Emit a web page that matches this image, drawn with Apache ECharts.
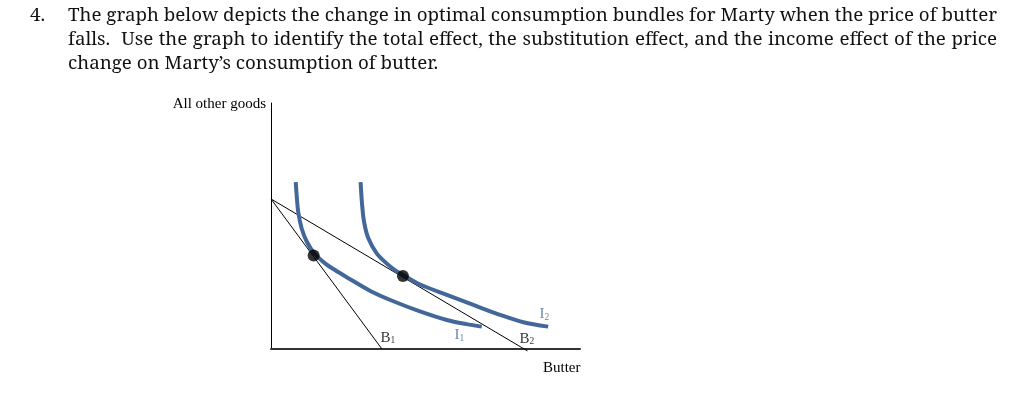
<!DOCTYPE html>
<html><head><meta charset="utf-8">
<script src="https://cdn.jsdelivr.net/npm/echarts@6/dist/echarts.min.js"></script>
<style>html,body{margin:0;padding:0;background:#fff}#c{width:1024px;height:393px}</style>
</head><body><div id="c"></div>
<script>
// Question text lines
const questionNumber = "4.";
const questionLines = [
  "The graph below depicts the change in optimal consumption bundles for Marty when the price of butter",
  "falls.  Use the graph to identify the total effect, the substitution effect, and the income effect of the price",
  "change on Marty\u2019s consumption of butter."
];
const justifiedLines = [true, true, false];
// Axis titles
const yAxisTitle = "All other goods";
const xAxisTitle = "Butter";
// Budget lines [butter, other goods]
const budget1 = [[0, 6.10], [3.59, 0]];
const budget2 = [[0, 6.10], [8.30, -0.08]];
// Indifference curves
const indiff1 = [[0.80,6.78],[0.83,6.26],[0.88,5.58],[0.99,4.91],[1.16,4.36],[1.40,3.89],[1.75,3.48],[2.07,3.21],[2.45,2.92],[3.20,2.37],[3.96,1.94],[4.82,1.53],[5.69,1.18],[6.33,1.01],[6.82,0.91]];
const indiff2 = [[2.90,6.78],[2.94,5.99],[3.01,5.18],[3.15,4.50],[3.42,3.89],[3.74,3.48],[4.01,3.21],[4.28,3.01],[4.82,2.62],[5.69,2.20],[6.55,1.79],[7.41,1.39],[8.17,1.09],[8.97,0.91]];
// Optimal bundles
const bundles = [[1.38, 3.80], [4.27, 2.97]];
// Curve labels: [base, subscript, butter, other goods]
const curveLabels = [["B","1",3.78,0.45],["I","1",6.10,0.55],["B","2",8.28,0.42],["I","2",8.85,1.40]];

const chart = echarts.init(document.getElementById('c'), null, {renderer:'canvas'});
const blue = '#44679a';
const serifQ = "'Noto Serif','DejaVu Serif Condensed',serif";
const times = "'Liberation Serif','Times New Roman',serif";
const qFont = "18.75px " + serifQ;

const ctx = document.createElement('canvas').getContext('2d');
ctx.font = qFont;
const textLeft = 68, textRight = 997;

const graphics = [];
graphics.push({type:'text', left:30, top:6, style:{text:questionNumber, font:qFont, fill:'#111'}});
questionLines.forEach((t,i)=>{
  const top = 6 + i*24;
  if (!justifiedLines[i]) {
    graphics.push({type:'text', left:textLeft, top:top, style:{text:t, font:qFont, fill:'#111'}});
    return;
  }
  const parts = t.split(' ');
  const words = []; const gapsWeight = [];
  parts.forEach(p=>{ if (p==='') { if (gapsWeight.length) gapsWeight[gapsWeight.length-1]+=1; } else { words.push(p); gapsWeight.push(1); } });
  gapsWeight.pop();
  const wordsW = words.reduce((a,w)=>a+ctx.measureText(w).width,0);
  const totalGapW = gapsWeight.reduce((a,b)=>a+b,0);
  const unit = (textRight - textLeft - wordsW) / totalGapW;
  let x = textLeft;
  words.forEach((w,k)=>{
    graphics.push({type:'text', left:x, top:top, style:{text:w, font:qFont, fill:'#111'}});
    x += ctx.measureText(w).width + (k<gapsWeight.length ? gapsWeight[k]*unit : 0);
  });
});
graphics.push({type:'text', right:1024-266, top:97, style:{text:yAxisTitle, font:"15px "+times, fill:'#000'}});
graphics.push({type:'text', left:543, top:361, style:{text:xAxisTitle, font:"15px "+times, fill:'#000'}});

const labelSeries = {
  type:'scatter', symbolSize:0, silent:true,
  data: curveLabels.map(l=>({value:[l[2],l[3]], name:l[0]+'|'+l[1]})),
  label:{show:true, position:'inside', fontFamily:times,
    formatter:p=>{const [b,s]=p.name.split('|'); const k=b==='I'?'i':'b'; return '{'+k+'|'+b+'}{'+k+'s|'+s+'}';},
    rich:{
      b:{fontSize:15, color:'#000', fontFamily:times},
      bs:{fontSize:9.5, color:'#000', fontFamily:times, verticalAlign:'bottom', padding:[6,0,0,0]},
      i:{fontSize:15, color:blue, fontFamily:times},
      is:{fontSize:9.5, color:blue, fontFamily:times, verticalAlign:'bottom', padding:[6,0,0,0]}
    }
  }
};

chart.setOption({
  animation:false,
  grid:{left:271, top:103, width:309, height:246, containLabel:false},
  xAxis:{type:'value', min:0, max:10, axisLine:{show:true, lineStyle:{color:'#333', width:2}}, axisTick:{show:false}, axisLabel:{show:false}, splitLine:{show:false}},
  yAxis:{type:'value', min:0, max:10, axisLine:{show:true, onZero:false, lineStyle:{color:'#000', width:1}}, axisTick:{show:false}, axisLabel:{show:false}, splitLine:{show:false}},
  graphic: graphics,
  series:[
    {type:'line', data:budget1, symbol:'none', clip:false, lineStyle:{color:'#000', width:1}, silent:true},
    {type:'line', data:budget2, symbol:'none', clip:false, lineStyle:{color:'#000', width:1}, silent:true},
    {type:'line', data:indiff1, symbol:'none', smooth:0.3, lineStyle:{color:blue, width:4, cap:'butt'}, silent:true},
    {type:'line', data:indiff2, symbol:'none', smooth:0.3, lineStyle:{color:blue, width:4, cap:'butt'}, silent:true},
    {type:'scatter', data:bundles, symbol:'circle', symbolSize:12, itemStyle:{color:'#000'}, silent:true, z:5},
    labelSeries
  ]
});
</script></body></html>
